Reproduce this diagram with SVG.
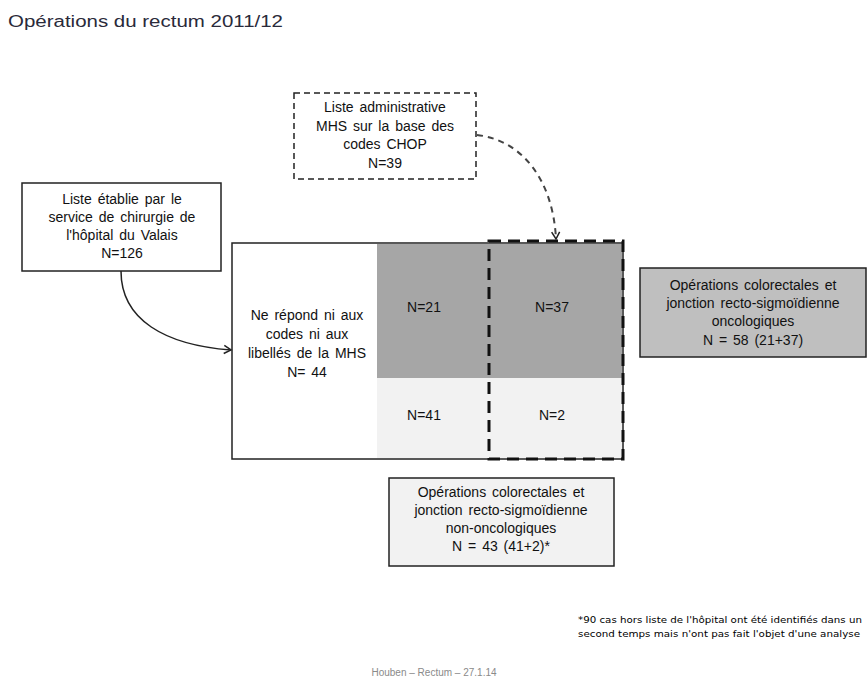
<svg xmlns="http://www.w3.org/2000/svg" width="868" height="681" viewBox="0 0 868 681">
<style>
.t{font-family:"Liberation Sans",Arial,sans-serif;font-size:14px;fill:#111;text-anchor:middle;word-spacing:2px}
.box{stroke:#222;stroke-width:1.5}
.dash{fill:none;stroke:#111;stroke-width:3;stroke-dasharray:12 7}
</style>
<defs>
<marker id="ah" markerWidth="10" markerHeight="10" refX="8" refY="5" orient="auto" markerUnits="userSpaceOnUse">
<path d="M1,1 L8,5 L1,9" fill="none" stroke="#222" stroke-width="1.5"/>
</marker>
</defs>
<rect width="868" height="681" fill="#fff"/>
<text x="8" y="27" font-family="'Liberation Sans',Arial,sans-serif" font-size="16" fill="#2a2a3a" textLength="275" lengthAdjust="spacingAndGlyphs">Opérations du rectum 2011/12</text>

<g id="main">
<rect x="232" y="243" width="391" height="216" fill="#fff" class="box"/>
<rect x="377" y="244" width="245" height="134" fill="#a6a6a6"/>
<rect x="377" y="378" width="245" height="80" fill="#f2f2f2"/>
<text class="t" x="307" y="320">Ne répond ni aux</text>
<text class="t" x="307" y="339">codes ni aux</text>
<text class="t" x="307" y="358">libellés de la MHS</text>
<text class="t" x="307" y="377">N= 44</text>
<text class="t" x="424" y="312">N=21</text>
<text class="t" x="552" y="312">N=37</text>
<text class="t" x="424" y="420">N=41</text>
<text class="t" x="552" y="420">N=2</text>
<rect x="489" y="241" width="134" height="218" class="dash"/>
</g>

<g id="admin">
<rect x="294" y="93" width="182" height="86" fill="#fff" stroke="#222" stroke-width="1.5" stroke-dasharray="6 4"/>
<text class="t" x="385" y="112">Liste administrative</text>
<text class="t" x="385" y="131">MHS sur la base des</text>
<text class="t" x="385" y="149">codes CHOP</text>
<text class="t" x="385" y="168">N=39</text>
</g>

<g id="hopital">
<rect x="22" y="183" width="199" height="88" fill="#fff" class="box"/>
<text class="t" x="122" y="204">Liste établie par le</text>
<text class="t" x="122" y="222">service de chirurgie de</text>
<text class="t" x="122" y="240">l'hôpital du Valais</text>
<text class="t" x="122" y="258">N=126</text>
</g>

<g id="onco">
<rect x="640" y="268" width="226" height="89" fill="#bfbfbf" class="box"/>
<text class="t" x="753" y="290">Opérations colorectales et</text>
<text class="t" x="753" y="308">jonction recto-sigmoïdienne</text>
<text class="t" x="753" y="326">oncologiques</text>
<text class="t" x="753" y="345">N = 58 (21+37)</text>
</g>

<g id="nononco">
<rect x="389" y="478" width="225" height="88" fill="#f2f2f2" class="box"/>
<text class="t" x="501" y="497">Opérations colorectales et</text>
<text class="t" x="501" y="515">jonction recto-sigmoïdienne</text>
<text class="t" x="501" y="533">non-oncologiques</text>
<text class="t" x="501" y="551">N = 43 (41+2)*</text>
</g>

<g id="connectors" fill="none">
<path d="M121,271 C121,320 165,345 231,350" stroke="#222" stroke-width="1.5" marker-end="url(#ah)"/>
<path d="M477,135 C522,140 553,180 556,239" stroke="#444" stroke-width="2" stroke-dasharray="6 5" marker-end="url(#ah)"/>
</g>

<g id="note" font-family="'DejaVu Sans',Verdana,sans-serif" font-size="9.5" fill="#000">
<text x="578" y="623" textLength="284" lengthAdjust="spacingAndGlyphs">*90 cas hors liste de l'hôpital ont été identifiés dans un</text>
<text x="578" y="637" textLength="282" lengthAdjust="spacingAndGlyphs">second temps mais n'ont pas fait l'objet d'une analyse</text>
</g>
<text x="434" y="676" text-anchor="middle" font-family="'Liberation Sans',Arial,sans-serif" font-size="10" fill="#8a8a8a">Houben – Rectum – 27.1.14</text>
</svg>
